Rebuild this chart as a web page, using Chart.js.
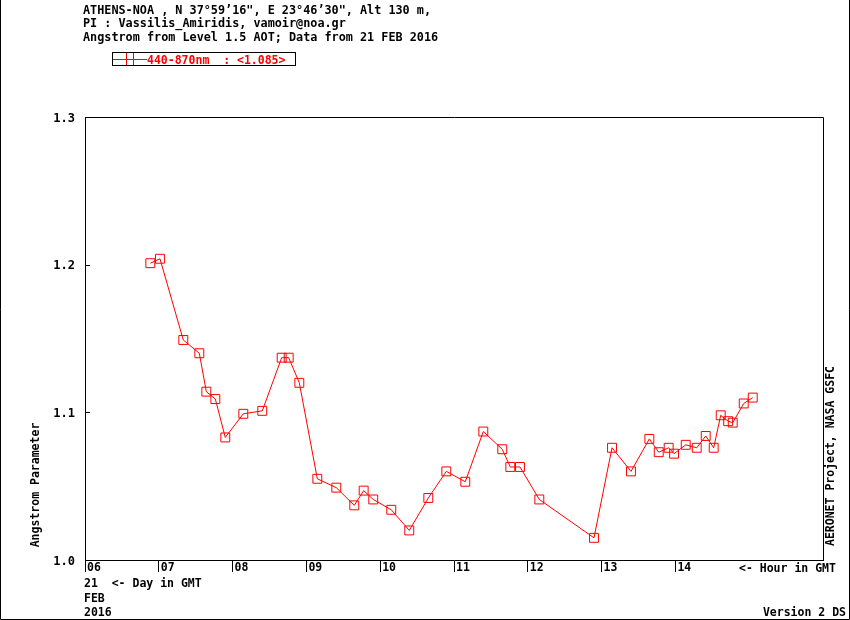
<!DOCTYPE html>
<html>
<head>
<meta charset="utf-8">
<script src="https://cdn.jsdelivr.net/npm/chart.js@4.4.1/dist/chart.umd.min.js"></script>
<style>
  html, body { margin: 0; padding: 0; background: #fff; }
  canvas { display: block; }
</style>
</head>
<body>
<canvas id="aot" width="850" height="620"></canvas>
<script>
// values (hour GMT, Angstrom 440-870nm)
const hours = [6.885, 7.016, 7.332, 7.549, 7.644, 7.766, 7.901, 8.145, 8.402, 8.665,
  8.760, 8.904, 9.148, 9.405, 9.649, 9.776, 9.906, 10.150, 10.394, 10.652,
  10.896, 11.153, 11.397, 11.654, 11.763, 11.894, 12.156, 12.897, 13.141, 13.398,
  13.647, 13.774, 13.909, 13.982, 14.140, 14.289, 14.411, 14.519, 14.614, 14.715,
  14.777, 14.926, 15.048];
const angstrom = [1.201, 1.204, 1.149, 1.140, 1.114, 1.109, 1.083, 1.099, 1.101, 1.137,
  1.137, 1.120, 1.055, 1.049, 1.037, 1.047, 1.041, 1.034, 1.020, 1.042,
  1.060, 1.053, 1.087, 1.075, 1.063, 1.063, 1.041, 1.015, 1.076, 1.060,
  1.082, 1.073, 1.076, 1.072, 1.078, 1.076, 1.084, 1.076, 1.098, 1.094,
  1.093, 1.106, 1.110];
const hourTicks = [6, 7, 8, 9, 10, 11, 12, 13, 14];
const yTicks = [1.0, 1.1, 1.2, 1.3];

const headerLines = [
  "ATHENS-NOA , N 37\u00B059\u201916\", E 23\u00B046\u201930\", Alt 130 m,",
  "PI : Vassilis_Amiridis, vamoir@noa.gr",
  "Angstrom from Level 1.5 AOT; Data from 21 FEB 2016"
];
const legendLabel = "440-870nm  : <1.085>";

const MONO = "'DejaVu Sans Mono', 'Liberation Mono', monospace";
const RED = "#ff0000";

const decorations = {
  id: "decorations",
  beforeDraw(chart) {
    const ctx = chart.ctx;
    ctx.save();
    ctx.fillStyle = "#fff";
    ctx.fillRect(0, 0, chart.width, chart.height);
    ctx.restore();
  },
  afterDraw(chart) {
    const ctx = chart.ctx;
    const a = chart.chartArea;
    const y = chart.scales.y;
    ctx.save();

    // plot frame (top + right), axes already drawn by scales
    ctx.strokeStyle = "#000";
    ctx.lineWidth = 1;
    ctx.beginPath();
    ctx.moveTo(Math.round(a.left) + 0.5, Math.round(a.top) + 0.5);
    ctx.lineTo(Math.round(a.right) + 0.5, Math.round(a.top) + 0.5);
    ctx.lineTo(Math.round(a.right) + 0.5, Math.round(a.bottom) + 0.5);
    ctx.stroke();

    // small inward ticks on the y axis
    yTicks.slice(1, -1).forEach(v => {
      const py = Math.round(y.getPixelForValue(v)) + 0.5;
      ctx.beginPath();
      ctx.moveTo(a.left, py);
      ctx.lineTo(a.left + 5, py);
      ctx.stroke();
    });

    // outer border (left, bottom, right)
    ctx.beginPath();
    ctx.moveTo(0.5, 0);
    ctx.lineTo(0.5, 619.5);
    ctx.lineTo(849.5, 619.5);
    ctx.lineTo(849.5, 0);
    ctx.stroke();

    // header
    ctx.fillStyle = "#000";
    ctx.font = "bold 11.8px " + MONO;
    ctx.textBaseline = "middle";
    ctx.textAlign = "left";
    headerLines.forEach((t, i) => ctx.fillText(t, 83, 10.5 + i * 13.5));

    // legend box
    ctx.strokeRect(112.5, 52.5, 183, 13);
    ctx.strokeStyle = RED;
    ctx.beginPath();
    ctx.moveTo(113, 59.5); ctx.lineTo(147, 59.5);
    ctx.moveTo(126.5, 53); ctx.lineTo(126.5, 65);
    ctx.moveTo(133.5, 53); ctx.lineTo(133.5, 65);
    ctx.stroke();
    ctx.fillStyle = RED;
    ctx.font = "bold 11.5px " + MONO;
    ctx.fillText(legendLabel, 147, 61);

    // bottom texts
    ctx.fillStyle = "#000";
    ctx.fillText("<- Hour in GMT", 739, 569);
    ctx.fillText("21  <- Day in GMT", 84, 584.5);
    ctx.fillText("FEB", 84, 599);
    ctx.fillText("2016", 84, 613.5);
    ctx.textAlign = "right";
    ctx.fillText("Version 2 DS", 846, 613);

    // rotated side titles
    ctx.textAlign = "center";
    ctx.save();
    ctx.translate(36, 485);
    ctx.rotate(-Math.PI / 2);
    ctx.fillText("Angstrom Parameter", 0, 0);
    ctx.restore();
    ctx.save();
    ctx.translate(831.5, 456);
    ctx.rotate(-Math.PI / 2);
    ctx.fillText("AERONET Project, NASA GSFC", 0, 0);
    ctx.restore();

    ctx.restore();
  }
};

new Chart(document.getElementById("aot"), {
  type: "scatter",
  data: {
    datasets: [{
      label: legendLabel,
      data: hours.map((h, i) => ({ x: h, y: angstrom[i] })),
      showLine: true,
      borderColor: RED,
      borderWidth: 1,
      pointStyle: "rect",
      pointRadius: 6.3,
      pointBackgroundColor: "rgba(0,0,0,0)",
      pointBorderColor: RED,
      pointBorderWidth: 1
    }]
  },
  options: {
    responsive: false,
    animation: false,
    devicePixelRatio: 1,
    layout: { padding: { left: 0, top: 117, right: 27, bottom: 0 } },
    plugins: { legend: { display: false }, tooltip: { enabled: false } },
    scales: {
      x: {
        type: "linear",
        position: "bottom",
        min: 6,
        max: 16,
        afterFit: s => { s.height = 60; },
        afterBuildTicks: s => { s.ticks = hourTicks.map(v => ({ value: v })); },
        border: { display: true, color: "#000", width: 1 },
        grid: { drawOnChartArea: false, drawTicks: true, tickLength: 12, color: "#000", lineWidth: 1 },
        ticks: {
          autoSkip: false,
          maxRotation: 0,
          align: "start",
          padding: -11,
          labelOffset: 2,
          color: "#000",
          font: { family: MONO, size: 11.5, weight: "bold" },
          callback: v => String(v).padStart(2, "0")
        }
      },
      y: {
        min: 1.0,
        max: 1.3,
        afterFit: s => { s.width = 85; },
        afterBuildTicks: s => { s.ticks = yTicks.map(v => ({ value: v })); },
        border: { display: true, color: "#000", width: 1 },
        grid: { drawOnChartArea: false, drawTicks: false },
        ticks: {
          padding: 10,
          labelOffset: 1.5,
          color: "#000",
          font: { family: MONO, size: 12, weight: "bold" },
          callback: v => Number(v).toFixed(1)
        }
      }
    }
  },
  plugins: [decorations]
});
</script>
</body>
</html>
